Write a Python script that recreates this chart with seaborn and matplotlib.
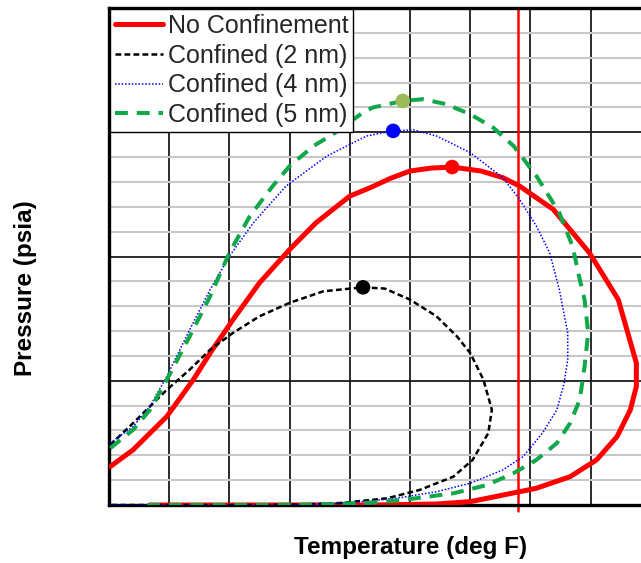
import numpy as np
import pandas as pd
import matplotlib
matplotlib.use("Agg")
import matplotlib.pyplot as plt
import seaborn as sns

sns.set_theme(style="white")
plt.rcParams["font.family"] = ["Liberation Sans", "DejaVu Sans"]

# Phase envelopes: temperature (deg F) and pressure (psia)
free_T = [-149, -130, -102, -80, -66, -47, -25, 0, 22, 50, 67, 84, 100, 118, 135, 159, 177, 191,
          219, 249, 273, 288, 288, 283, 272, 255, 233, 205, 191, 164, 150, 122, 67, -116]
free_P = [309, 444, 712, 1008, 1223, 1492, 1788, 2056, 2272, 2486, 2554, 2630, 2688, 2712, 2720, 2688, 2635, 2567,
          2379, 2030, 1653, 1143, 954, 766, 551, 363, 228, 135, 107, 54, 27, 8, 0, 0]

nm2_T = [-149, -130, -102, -83, -66, -47, -25, 0, 28, 61, 79, 100, 122, 139, 150, 161,
         168, 165, 152, 136, 108, 81, 67, 42, 9, -33, -150]
nm2_P = [484, 659, 927, 1089, 1250, 1385, 1519, 1627, 1720, 1752, 1742, 1653, 1519, 1357, 1223, 1008,
         766, 578, 363, 228, 121, 54, 40, 16, 4, 0, 0]

nm4_T = [-149, -130, -116, -102, -83, -66, -50, -30, -3, 31, 64, 86, 103, 122, 150, 177,
         191, 205, 216, 224, 231, 231, 228, 222, 210, 194, 177, 150, 122, 94, 67, 33, -8, -150]
nm4_P = [498, 631, 793, 1035, 1411, 1734, 2002, 2272, 2567, 2809, 2970, 3011, 3019, 2970, 2836, 2635,
         2460, 2244, 2030, 1734, 1385, 1169, 981, 766, 578, 390, 282, 175, 107, 62, 32, 8, 0, 0]

nm5_T = [-149, -130, -116, -102, -83, -66, -50, -33, -14, 0, 20, 36, 61, 69, 94, 111,
         130, 150, 169, 186, 205, 224, 235, 241, 245, 248, 245, 241, 233, 222, 205, 186,
         164, 136, 94, 67, 25, -25, -124]
nm5_P = [457, 605, 766, 1008, 1357, 1680, 2030, 2325, 2567, 2728, 2890, 2984, 3159, 3199, 3252, 3266,
         3226, 3145, 3038, 2890, 2648, 2352, 2083, 1815, 1653, 1385, 1115, 847, 659, 498, 363, 256,
         161, 94, 40, 19, 4, 0, 0]

# Critical points of each envelope
crit_T = [135, 61, 86, 94]
crit_P = [2720, 1752, 3011, 3252]
crit_colors = ["#ff0000", "#000000", "#0000ff", "#9bbb59"]

reservoir_T = 190

labels = ["No Confinement", "Confined (2 nm)", "Confined (4 nm)", "Confined (5 nm)"]

fig = plt.figure(figsize=(6.41, 5.63), dpi=100)
ax = fig.add_axes([109 / 641, 58 / 563, 602 / 641, 497 / 563])

styles = [
    dict(color="#ff0000", lw=3.6, linestyle="-"),
    dict(color="#000000", lw=1.8, linestyle=(0, (2.3, 1.3))),
    dict(color="#0000ff", lw=1.1, linestyle=(0, (1, 1.2))),
    dict(color="#11a84a", lw=2.9, linestyle=(0, (3.2, 2.2))),
]
series = [(free_T, free_P), (nm2_T, nm2_P), (nm4_T, nm4_P), (nm5_T, nm5_P)]

for (t, p), lab, st in zip(series, labels, styles):
    df = pd.DataFrame({"T": t, "P": p})
    sns.lineplot(data=df, x="T", y="P", sort=False, estimator=None, ax=ax,
                 label=lab, zorder=3, solid_joinstyle="round", dash_joinstyle="round",
                 **st)

ax.axvline(reservoir_T, ymin=-0.012, ymax=1, color="#ff0000", lw=1.8, zorder=2, clip_on=False)

crit = pd.DataFrame({"T": crit_T, "P": crit_P, "c": labels})
sns.scatterplot(data=crit, x="T", y="P", hue="c", palette=crit_colors, s=110,
                edgecolor="none", ax=ax, legend=False, zorder=4)

ax.set_xlim(-150, 350)
ax.set_ylim(0, 4000)
ax.set_xticks(np.arange(-150, 351, 50))
ax.set_yticks(np.arange(0, 4001, 1000))
ax.set_yticks(np.arange(0, 4001, 200), minor=True)
ax.set_axisbelow(True)
ax.grid(which="minor", axis="y", color="#c8c8c8", lw=1.5)
ax.grid(which="major", axis="both", color="#1a1a1a", lw=1.3)
ax.tick_params(which="both", length=0, labelbottom=False, labelleft=False)

for side in ["left", "bottom", "top"]:
    ax.spines[side].set_color("black")
    ax.spines[side].set_linewidth(2.4)
ax.spines["right"].set_visible(False)

ax.set_xlabel("Temperature (deg F)", fontsize=17.5, fontweight="bold", color="black")
ax.set_ylabel("Pressure (psia)", fontsize=17.5, fontweight="bold", color="black")
ax.xaxis.set_label_coords(0.5017, -0.0865)
ax.xaxis.label.set_va("center")
ax.yaxis.set_label_coords(-0.1395, 0.4366)
ax.yaxis.label.set_va("center")

handles, labs = ax.get_legend_handles_labels()
leg = ax.legend(handles[:4], labs[:4], loc="upper left", bbox_to_anchor=(0.002, 0.998),
                borderaxespad=0, fontsize=18, frameon=True, fancybox=False, framealpha=1,
                edgecolor="black", borderpad=0.2, labelspacing=0.23, handlelength=1.9,
                handletextpad=0.2)
leg.get_frame().set_linewidth(1.0)
leg.set_zorder(6)

fig.savefig("out.png", dpi=100)
